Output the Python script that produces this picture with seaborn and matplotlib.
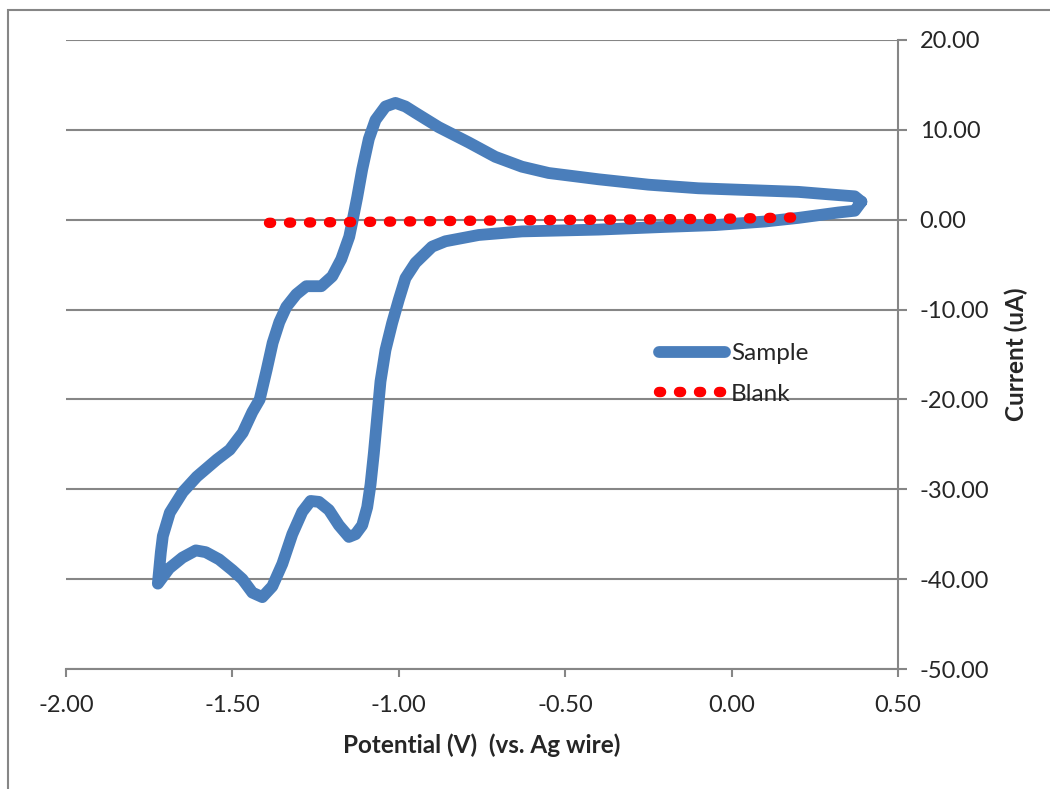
import matplotlib
matplotlib.use("Agg")
import matplotlib.pyplot as plt
import seaborn as sns
import pandas as pd
from matplotlib.patches import Rectangle
from matplotlib.ticker import FormatStrFormatter

# ---- data ----
sample_x = [0.39, 0.37, 0.32, 0.20, 0.10, -0.05, -0.20, -0.40, -0.63, -0.76, -0.86, -0.90,
            -0.95, -0.98, -1.00, -1.02, -1.04, -1.055, -1.065, -1.075, -1.085, -1.095,
            -1.11, -1.13,
            -1.15, -1.18, -1.21, -1.24, -1.265, -1.29, -1.32, -1.35, -1.38, -1.41, -1.44,
            -1.47, -1.50, -1.54, -1.58, -1.61, -1.65, -1.69, -1.724,
            -1.715, -1.709, -1.688, -1.649, -1.607, -1.547, -1.508, -1.469, -1.44, -1.418,
            -1.397, -1.379, -1.359, -1.338, -1.308, -1.278, -1.233, -1.20, -1.173, -1.149,
            -1.14, -1.125, -1.11, -1.09, -1.07, -1.04, -1.01, -0.98, -0.95, -0.88, -0.79,
            -0.71, -0.63, -0.55, -0.40, -0.25, -0.10, 0.05, 0.20, 0.30, 0.37, 0.39]
sample_y = [2.0, 1.0, 0.8, 0.2, -0.2, -0.6, -0.8, -1.1, -1.3, -1.7, -2.4, -3.0,
            -4.8, -6.5, -8.9, -11.5, -14.5, -18.0, -22.0, -26.0, -29.5, -32.0,
            -34.0, -35.0,
            -35.3, -34.0, -32.3, -31.4, -31.3, -32.5, -35.0, -38.3, -40.8, -42.0, -41.5,
            -40.0, -39.0, -37.8, -37.0, -36.8, -37.6, -38.8, -40.5,
            -37.0, -35.2, -32.6, -30.3, -28.6, -26.7, -25.6, -23.7, -21.4, -20.0,
            -16.7, -13.7, -11.4, -9.7, -8.3, -7.4, -7.4, -6.3, -4.4, -1.9,
            -0.3, 2.5, 5.6, 9.0, 11.1, 12.6, 13.0, 12.6, 11.9, 10.3, 8.6,
            7.0, 5.9, 5.2, 4.5, 3.9, 3.5, 3.3, 3.1, 2.8, 2.6, 2.0]

blank_x = [-1.39, -1.20, -1.00, -0.80, -0.60, -0.40, -0.20, 0.00, 0.19]
blank_y = [-0.35, -0.28, -0.20, -0.12, -0.05, 0.00, 0.05, 0.12, 0.25]

x_ticks = [-2.0, -1.5, -1.0, -0.5, 0.0, 0.5]
y_ticks = [-50, -40, -30, -20, -10, 0, 10, 20]

x_label = "Potential (V)  (vs. Ag wire)"
y_label = "Current (uA)"

blue = "#4a7ebb"
red = "#ff0000"
gray = "#868686"

sns.set_style("white")
plt.rcParams["font.family"] = ["Lato", "DejaVu Sans"]

fig = plt.figure(figsize=(10.5, 7.89), dpi=100)
ax = fig.add_axes([66 / 1050, 1 - 669 / 789, (898 - 66) / 1050, (669 - 40) / 789])

df_s = pd.DataFrame({"x": sample_x, "y": sample_y})
df_b = pd.DataFrame({"x": blank_x, "y": blank_y})

sns.lineplot(data=df_s, x="x", y="y", sort=False, estimator=None, ax=ax,
             color=blue, linewidth=8.5, label="Sample", zorder=3)
sl = ax.get_lines()[-1]
sl.set_solid_capstyle("round")
sl.set_solid_joinstyle("round")
sns.lineplot(data=df_b, x="x", y="y", sort=False, estimator=None, ax=ax,
             color=red, linewidth=7.5, label="Blank", zorder=4)
bl = ax.get_lines()[-1]
bl.set_linestyle((0, (0.2, 1.72)))
bl.set_dash_capstyle("round")

ax.set_xlim(-2.0, 0.5)
ax.set_ylim(-50, 20)
ax.set_xticks(x_ticks)
ax.set_yticks(y_ticks)
ax.xaxis.set_major_formatter(FormatStrFormatter("%.2f"))
ax.yaxis.set_major_formatter(FormatStrFormatter("%.2f"))
ax.yaxis.tick_right()
ax.yaxis.set_label_position("right")

ax.grid(axis="y", color=gray, linewidth=1.5)
ax.grid(axis="x", visible=False)
ax.set_axisbelow(True)
for s in ["left", "top"]:
    ax.spines[s].set_visible(False)
for s in ["right", "bottom"]:
    ax.spines[s].set_color(gray)
    ax.spines[s].set_linewidth(1.5)

ax.tick_params(axis="x", direction="out", length=6, width=1.5, color=gray,
               labelsize=17, pad=13, bottom=True)
ax.tick_params(axis="y", direction="out", length=6.5, width=1.5, color=gray,
               labelsize=17, pad=9, right=True, left=False)

ax.set_xlabel(x_label, fontsize=17.5, fontweight="bold", labelpad=12)
ax.set_ylabel(y_label, fontsize=17.5, fontweight="bold", labelpad=11)

leg = ax.legend(loc="upper left", bbox_to_anchor=(0.6865, 0.553), frameon=False,
                fontsize=17.5, handlelength=2.7, handletextpad=0.25, labelspacing=0.8)

fig.patches.append(Rectangle((8 / 1050, -0.1), 2.0, (789 - 10) / 789 + 0.1,
                             transform=fig.transFigure, fill=False,
                             edgecolor=gray, linewidth=1.5, zorder=10))

fig.savefig("out.png", dpi=100)
